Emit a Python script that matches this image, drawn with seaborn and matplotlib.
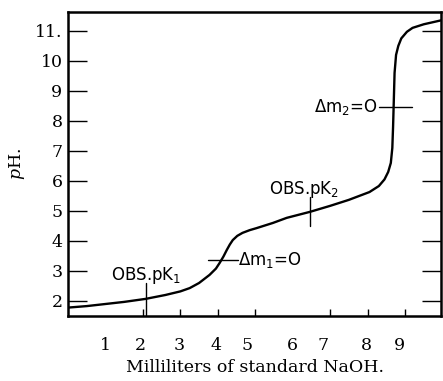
import matplotlib
matplotlib.use("Agg")
import matplotlib.pyplot as plt
import seaborn as sns
import pandas as pd

# Titration curve
ml_naoh = [0.0, 0.5, 1.0, 1.5, 2.07, 2.6, 3.0, 3.25, 3.5, 3.78, 3.95, 4.05, 4.15, 4.24, 4.32,
           4.4, 4.52, 4.66, 4.85, 5.04, 5.47, 5.84, 6.46, 7.0, 7.5, 8.05, 8.3, 8.45, 8.55,
           8.62, 8.66, 8.68, 8.70, 8.72, 8.76, 8.82, 8.9, 9.05, 9.2, 9.5, 9.96]
ph_values = [1.78, 1.83, 1.9, 1.97, 2.07, 2.2, 2.32, 2.43, 2.6, 2.87, 3.08, 3.27, 3.48, 3.7, 3.88,
             4.03, 4.17, 4.27, 4.36, 4.43, 4.6, 4.77, 4.97, 5.17, 5.37, 5.63, 5.83, 6.05, 6.3,
             6.6, 7.1, 7.8, 8.7, 9.6, 10.2, 10.5, 10.75, 10.97, 11.1, 11.22, 11.35]

# Annotation markers
pk1_x, pk1_ph_range = 2.07, (1.5, 2.6)
pk2_x, pk2_ph_range = 6.45, (4.5, 5.47)
dm1_ph, dm1_x_range = 3.37, (3.73, 4.53)
dm2_ph, dm2_x_range = 8.47, (8.3, 9.18)

y_ticks = [2, 3, 4, 5, 6, 7, 8, 9, 10, 11]
y_tick_labels = ["2", "3", "4", "5", "6", "7", "8", "9", "10", "11."]
x_tick_marks = [1, 2, 3, 4, 5, 6, 7, 8, 9]
x_label_pos = [1.0, 1.94, 2.98, 3.94, 4.77, 6.0, 6.8, 7.98, 8.84]
x_tick_labels = ["1", "2", "3", "4", "5", "6", "7", "8", "9"]

sns.set_theme(style="ticks")
plt.rcParams["font.family"] = ["DejaVu Serif"]
plt.rcParams["mathtext.fontset"] = "dejavuserif"
plt.rcParams["text.color"] = "black"
plt.rcParams["axes.labelcolor"] = "black"
plt.rcParams["xtick.color"] = "black"
plt.rcParams["ytick.color"] = "black"

fig = plt.figure(figsize=(4.43, 3.81), dpi=100)
ax = fig.add_axes([0.1535, 0.1706, 0.842, 0.798])

df = pd.DataFrame({"ml": ml_naoh, "ph": ph_values})
sns.lineplot(data=df, x="ml", y="ph", ax=ax, color="black", linewidth=1.7, sort=False)

ax.plot([pk1_x, pk1_x], pk1_ph_range, color="black", lw=1.0)
ax.plot([pk2_x, pk2_x], pk2_ph_range, color="black", lw=1.0)
ax.plot(dm1_x_range, [dm1_ph, dm1_ph], color="black", lw=1.0)
ax.plot(dm2_x_range, [dm2_ph, dm2_ph], color="black", lw=1.0)

sans = ["DejaVu Sans"]
ax.text(pk1_x + 0.02, 2.5, r"OBS.pK$_1$", family=sans, fontsize=12, ha="center", va="bottom",
        color="black", math_fontfamily="dejavusans")
ax.text(pk2_x - 0.15, 5.35, r"OBS.pK$_2$", family=sans, fontsize=12, ha="center", va="bottom",
        color="black", math_fontfamily="dejavusans")
ax.text(dm1_x_range[1] + 0.02, dm1_ph, r"Δm$_1$=O", family=sans, fontsize=12, ha="left", va="center",
        color="black", math_fontfamily="dejavusans")
ax.text(dm2_x_range[0] - 0.02, dm2_ph, r"Δm$_2$=O", family=sans, fontsize=12, ha="right", va="center",
        color="black", math_fontfamily="dejavusans")

ax.set_xlim(0, 9.96)
ax.set_ylim(1.5, 11.63)

ax.set_yticks(y_ticks)
ax.set_yticklabels(y_tick_labels, fontsize=12.5)
ax.tick_params(axis="y", which="major", direction="in", length=14, width=1.0,
               left=True, right=True, pad=4)

ax.set_xticks(x_label_pos)
ax.set_xticklabels(x_tick_labels, fontsize=12.5)
ax.set_xticks(x_tick_marks, minor=True)
ax.tick_params(axis="x", which="major", length=0, pad=15)
ax.tick_params(axis="x", which="minor", direction="in", length=5, width=1.0)

for s in ax.spines.values():
    s.set_visible(True)
    s.set_linewidth(1.8)
    s.set_color("black")

ax.set_xlabel("Milliliters of standard NaOH.", fontsize=12.5, labelpad=4)
ax.set_ylabel(r"$p$H.", fontsize=12.5, labelpad=6)
ax.grid(False)

fig.savefig("out.png", dpi=100)
